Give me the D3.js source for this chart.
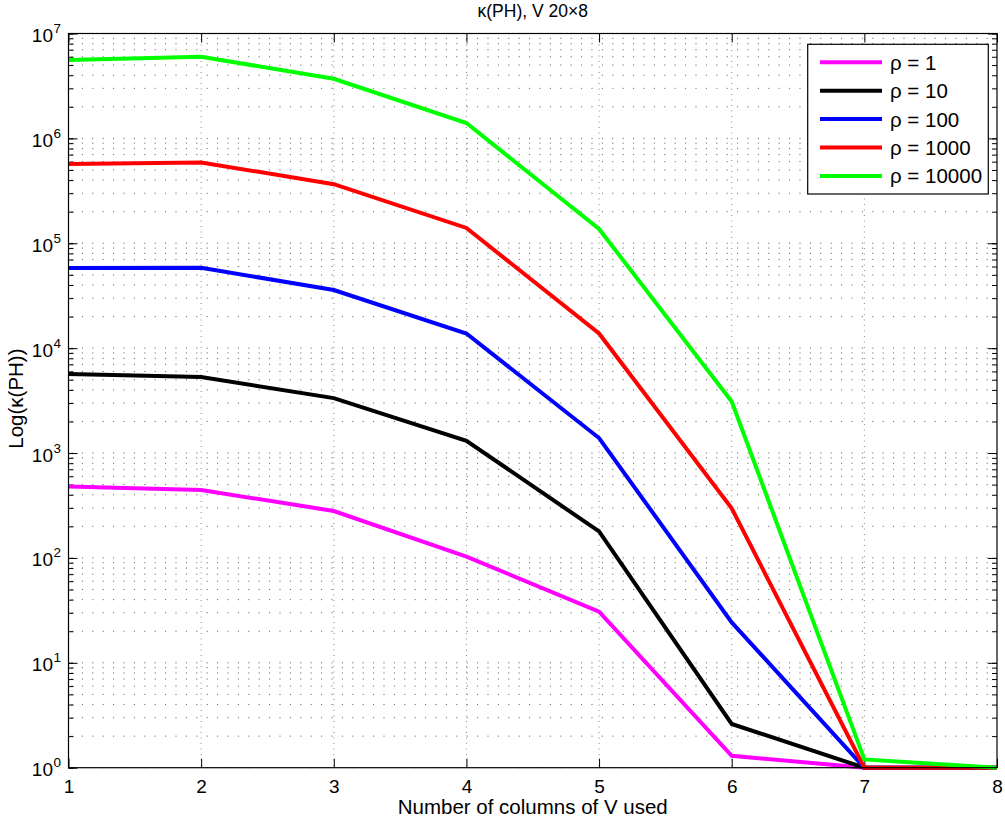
<!DOCTYPE html>
<html>
<head>
<meta charset="utf-8">
<script src="https://cdn.jsdelivr.net/npm/d3@7"></script>
<style>
  body { margin: 0; background: #fff; }
  svg text { font-family: "Liberation Sans", Arial, Helvetica, sans-serif; fill: #000; }
</style>
</head>
<body>
<div id="chart"></div>
<script>
// data
const columns = [1, 2, 3, 4, 5, 6, 7, 8];
const rhoLabels = ["ρ = 1", "ρ = 10", "ρ = 100", "ρ = 1000", "ρ = 10000"];
const rhoColors = ["#ff00ff", "#000000", "#0000ff", "#ff0000", "#00ff00"];
const kappaRho1     = [480, 445, 280, 103, 30.8, 1.3, 1, 1];
const kappaRho10    = [5660, 5300, 3340, 1310, 179, 2.61, 1, 1];
const kappaRho100   = [58200, 58500, 35800, 13800, 1390, 24.3, 1, 1];
const kappaRho1000  = [569000, 590000, 366000, 140000, 13800, 297, 1, 1];
const kappaRho10000 = [5600000, 6000000, 3700000, 1400000, 137000, 3100, 1.2, 1];
const yDecades = [0, 1, 2, 3, 4, 5, 6, 7];

const seriesValues = [kappaRho1, kappaRho10, kappaRho100, kappaRho1000, kappaRho10000];
const series = rhoLabels.map((name, i) => ({
  name,
  color: rhoColors[i],
  values: columns.map((c, j) => ({ col: c, value: seriesValues[i][j] }))
}));

// 1. SVG + plot box
const W = 1005, H = 825;
const plot = { left: 68.5, right: 997, top: 33.5, bottom: 767.7 };

const svg = d3.select("#chart").append("svg")
    .attr("width", W)
    .attr("height", H);

svg.append("rect").attr("width", W).attr("height", H).attr("fill", "#fff");

const x = d3.scaleLinear().domain([1, 8]).range([plot.left, plot.right]);
const y = d3.scaleLog().domain([1, 1e7]).range([plot.bottom, plot.top]);

// 2. Grid (dotted, MATLAB style)
const grid = svg.append("g").attr("class", "grid");
const minorVals = y.ticks();

grid.selectAll(".hgrid")
  .data(minorVals)
  .enter().append("line")
    .attr("x1", plot.left + 3).attr("x2", plot.right)
    .attr("y1", d => y(d)).attr("y2", d => y(d))
    .attr("stroke", "#555")
    .attr("stroke-width", 1)
    .attr("stroke-dasharray", "1,9.4");

grid.selectAll(".vgrid")
  .data(columns.slice(1, -1))
  .enter().append("line")
    .attr("x1", d => x(d)).attr("x2", d => x(d))
    .attr("y1", plot.top).attr("y2", plot.bottom)
    .attr("stroke", "#888")
    .attr("stroke-width", 1)
    .attr("stroke-dasharray", "1,4.5");

// 3. Axes (ticks point inward)
const majorVals = yDecades.map(e => Math.pow(10, e));

svg.append("g")
    .attr("transform", `translate(0,${plot.bottom})`)
    .call(d3.axisBottom(x).tickValues(columns).tickFormat(d3.format("d"))
      .tickSizeInner(-9).tickSizeOuter(0).tickPadding(7))
    .call(g => g.select(".domain").remove())
    .call(g => g.selectAll("text").attr("font-size", 19).attr("dy", "0.95em")
      .style("font-family", "'Liberation Sans', Arial, sans-serif"));

svg.append("g")
    .attr("transform", `translate(0,${plot.top})`)
    .call(d3.axisTop(x).tickValues(columns).tickFormat("")
      .tickSizeInner(-9).tickSizeOuter(0))
    .call(g => g.select(".domain").remove());

svg.append("g")
    .attr("transform", `translate(${plot.left},0)`)
    .call(d3.axisLeft(y).tickValues(minorVals).tickFormat("")
      .tickSizeInner(-5).tickSizeOuter(0))
    .call(g => g.select(".domain").remove());

svg.append("g")
    .attr("transform", `translate(${plot.left},0)`)
    .call(d3.axisLeft(y).tickValues(majorVals).tickFormat("")
      .tickSizeInner(-9).tickSizeOuter(0))
    .call(g => g.select(".domain").remove());

svg.append("g")
    .attr("transform", `translate(${plot.right},0)`)
    .call(d3.axisRight(y).tickValues(minorVals).tickFormat("")
      .tickSizeInner(-5).tickSizeOuter(0))
    .call(g => g.select(".domain").remove());

svg.append("g")
    .attr("transform", `translate(${plot.right},0)`)
    .call(d3.axisRight(y).tickValues(majorVals).tickFormat("")
      .tickSizeInner(-9).tickSizeOuter(0))
    .call(g => g.select(".domain").remove());

// y labels as 10^n
svg.append("g").selectAll("text")
  .data(yDecades)
  .enter().append("text")
    .attr("x", 53)
    .attr("y", d => y(Math.pow(10, d)) + 8.5)
    .attr("text-anchor", "end")
    .attr("font-size", 19)
    .text("10");

svg.append("g").selectAll("text")
  .data(yDecades)
  .enter().append("text")
    .attr("x", 53.5)
    .attr("y", d => y(Math.pow(10, d)) - 0.5)
    .attr("font-size", 13.5)
    .text(d => d);

// 4. Lines
const line = d3.line()
    .x(d => x(d.col))
    .y(d => y(d.value));

svg.append("g")
  .selectAll(".line")
  .data(series)
  .enter().append("path")
    .attr("class", "line")
    .attr("d", d => line(d.values))
    .attr("fill", "none")
    .attr("stroke", d => d.color)
    .attr("stroke-width", 4)
    .attr("stroke-linejoin", "miter");

// frame
svg.append("rect")
    .attr("x", plot.left).attr("y", plot.top)
    .attr("width", plot.right - plot.left)
    .attr("height", plot.bottom - plot.top)
    .attr("fill", "none")
    .attr("stroke", "#000")
    .attr("stroke-width", 1.2);

svg.selectAll(".tick line").attr("stroke", "#000").attr("stroke-width", 1);

// 5. Titles
svg.append("text")
    .attr("x", (plot.left + plot.right) / 2)
    .attr("y", 17)
    .attr("text-anchor", "middle")
    .attr("font-size", 17.5)
    .text("κ(PH), V 20×8");

svg.append("text")
    .attr("x", (plot.left + plot.right) / 2)
    .attr("y", 814)
    .attr("text-anchor", "middle")
    .attr("font-size", 20.5)
    .text("Number of columns of V used");

svg.append("text")
    .attr("transform", `translate(23,${(plot.top + plot.bottom) / 2 - 2}) rotate(-90)`)
    .attr("text-anchor", "middle")
    .attr("font-size", 20.5)
    .text("Log(κ(PH))");

// 6. Legend
const legend = svg.append("g").attr("class", "legend");
legend.append("rect")
    .attr("x", 807.7).attr("y", 44.3)
    .attr("width", 180.6).attr("height", 149.7)
    .attr("fill", "#fff")
    .attr("stroke", "#000")
    .attr("stroke-width", 1.2);

const item = legend.selectAll(".item")
  .data(series)
  .enter().append("g")
    .attr("transform", (d, i) => `translate(0,${62.3 + i * 28.4})`);

item.append("line")
    .attr("x1", 820).attr("x2", 882)
    .attr("stroke", d => d.color)
    .attr("stroke-width", 4);

item.append("text")
    .attr("x", 890)
    .attr("y", 7.5)
    .attr("font-size", 20.5)
    .text(d => d.name);
</script>
</body>
</html>
